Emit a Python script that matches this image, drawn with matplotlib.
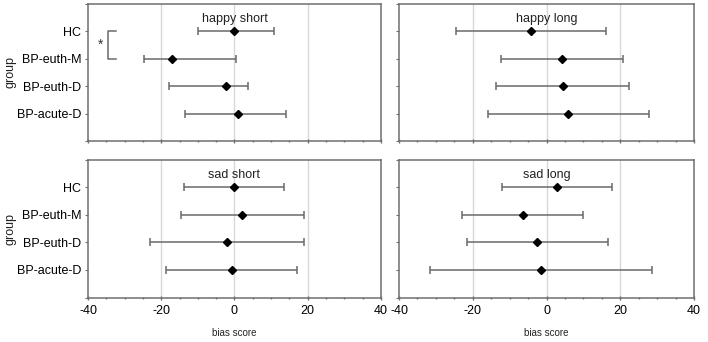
import matplotlib.pyplot as plt

plt.rcParams['font.family'] = ['Liberation Sans', 'DejaVu Sans']
plt.rcParams['axes.unicode_minus'] = False

groups = ["HC", "BP-euth-M", "BP-euth-D", "BP-acute-D"]
panels = ["happy short", "happy long", "sad short", "sad long"]

# mean and lower / upper end of the error bars per panel
means = {
    "happy short": [0.0, -17.2, -2.2, 0.9],
    "happy long":  [-4.3, 4.1, 4.4, 5.9],
    "sad short":   [0.0, 2.1, -2.1, -0.6],
    "sad long":    [2.8, -6.5, -2.6, -1.6],
}
lowers = {
    "happy short": [-10.1, -24.6, -17.8, -13.6],
    "happy long":  [-24.6, -12.3, -13.6, -16.0],
    "sad short":   [-13.8, -14.7, -23.1, -18.6],
    "sad long":    [-12.1, -22.8, -21.7, -31.6],
}
uppers = {
    "happy short": [10.7, 0.3, 3.75, 14.0],
    "happy long":  [16.2, 20.6, 22.4, 27.9],
    "sad short":   [13.5, 19.0, 19.0, 17.2],
    "sad long":    [17.7, 10.0, 16.7, 28.7],
}

fig = plt.figure(figsize=(7.08, 3.42), dpi=100)
boxes = {
    "happy short": [0.1243, 0.5877, 0.4138, 0.4018],
    "happy long":  [0.5636, 0.5877, 0.4167, 0.4018],
    "sad short":   [0.1243, 0.1301, 0.4138, 0.4035],
    "sad long":    [0.5636, 0.1301, 0.4167, 0.4035],
}
spine_col = "#6f6f6f"
bar_col = "#6a6a6a"

for name in panels:
    ax = fig.add_axes(boxes[name])
    ypos = list(range(1, len(groups) + 1))
    m = means[name]
    xerr = [[mi - lo for mi, lo in zip(m, lowers[name])],
            [hi - mi for mi, hi in zip(m, uppers[name])]]
    ax.errorbar(m, ypos, xerr=xerr, fmt="D", color="black", ms=4.2,
                ecolor=bar_col, elinewidth=1.1, capsize=3, capthick=1.1,
                zorder=3)
    ax.set_xlim(-40, 40)
    ax.set_ylim(5, 0)
    for g in (-20, 0, 20):
        ax.axvline(g, color="#d8d8d8", lw=1, zorder=0)
    for s in ax.spines.values():
        s.set_color(spine_col)
        s.set_linewidth(1.1)
    ax.set_xticks([-40, -20, 0, 20, 40])
    ax.set_xticks(range(-40, 41, 5), minor=True)
    ax.tick_params(axis="x", which="both", direction="inout", color=spine_col,
                   labelsize=9, length=3, width=1, pad=4)
    ax.tick_params(axis="x", which="minor", length=2)
    ax.set_yticks([0] + ypos + [5])
    ax.tick_params(axis="y", direction="out", color=spine_col, length=2,
                   labelsize=9, pad=3)
    ax.text(0, 0.55, name, ha="center", va="center", fontsize=9, color="#222")

    left = name.endswith("short")
    bottom = name.startswith("sad")
    if left:
        ax.set_yticklabels([""] + groups + [""])
        ax.set_ylabel("group", fontsize=9, color="#222")
        ax.yaxis.set_label_coords(-0.245, 0.5)
    else:
        ax.set_yticklabels([])
    if bottom:
        ax.set_xlabel("bias score", fontsize=7, color="#222", labelpad=8)
    else:
        ax.set_xticklabels([])

    if name == "happy short":
        # significance bracket between HC and BP-euth-M
        ax.plot([-32.3, -34.5, -34.5, -32.3], [1, 1, 2, 2], color=bar_col,
                lw=1.1)
        ax.text(-36.6, 1.5, "*", ha="center", va="center", fontsize=10,
                color="#333")

fig.savefig("out.png", dpi=100, facecolor="white")
